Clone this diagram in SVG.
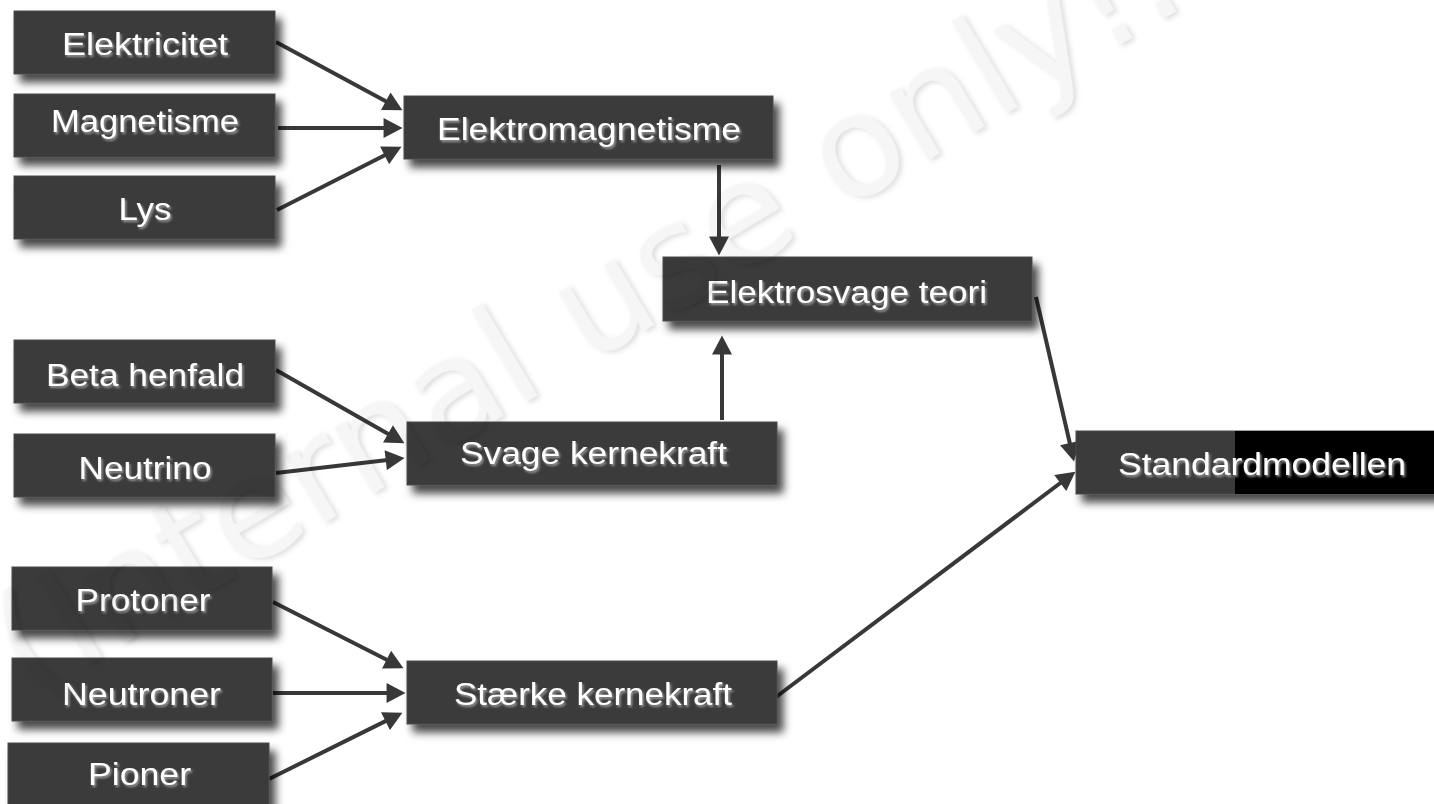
<svg xmlns="http://www.w3.org/2000/svg" width="1434" height="804" viewBox="0 0 1434 804">
<defs>
  <style>
    .box { fill: #3b3b3b; stroke: #4a4a4a; stroke-width: 1; filter: url(#boxsh); }
    .lbl { font-family: "Liberation Sans", Arial, sans-serif; font-size: 31px; fill: #ffffff; text-anchor: middle; filter: url(#txtsh); }
    .conn { stroke: #383838; stroke-width: 4; fill: none; marker-end: url(#arr); }
    .wm { font-family: "DejaVu Sans", Verdana, sans-serif; font-size: 140px; fill: #000; filter: url(#wmf); }
  </style>
  <filter id="boxsh" x="-10%" y="-20%" width="125%" height="160%">
    <feDropShadow dx="6" dy="8" stdDeviation="4.5" flood-color="#000" flood-opacity="0.72"/>
  </filter>
  <filter id="txtsh" x="-10%" y="-30%" width="120%" height="160%">
    <feDropShadow dx="1.5" dy="2" stdDeviation="0.9" flood-color="#9a9a9a" flood-opacity="1"/>
  </filter>
  <filter id="wmf" x="-5%" y="-5%" width="110%" height="110%">
    <feGaussianBlur in="SourceAlpha" stdDeviation="2.5" result="b"/>
    <feOffset in="b" dx="2" dy="3" result="o"/>
    <feComposite in="o" in2="SourceAlpha" operator="out" result="edge"/>
    <feFlood flood-color="#000" flood-opacity="0.13" result="f1"/>
    <feComposite in="f1" in2="edge" operator="in" result="sh"/>
    <feFlood flood-color="#000" flood-opacity="0.035" result="f2"/>
    <feComposite in="f2" in2="SourceAlpha" operator="in" result="fill"/>
    <feMerge><feMergeNode in="sh"/><feMergeNode in="fill"/></feMerge>
  </filter>
  <marker id="arr" markerUnits="userSpaceOnUse" markerWidth="20" markerHeight="20" viewBox="0 0 18 19" refX="8" refY="9.5" orient="auto">
    <path d="M0,0 L18,9.5 L0,19 Z" fill="#383838"/>
  </marker>
</defs>
<rect x="0" y="0" width="1434" height="804" fill="#ffffff"/>

<g id="connectors">
  <line class="conn" x1="276" y1="42" x2="393.2" y2="105.3"/>
  <line class="conn" x1="278" y1="128" x2="392" y2="128"/>
  <line class="conn" x1="277" y1="210" x2="392.1" y2="151.5"/>
  <line class="conn" x1="719" y1="165" x2="719" y2="245"/>
  <line class="conn" x1="722" y1="420" x2="722" y2="346"/>
  <line class="conn" x1="1036" y1="297" x2="1071.7" y2="451.3"/>
  <line class="conn" x1="776" y1="697" x2="1067" y2="478"/>
  <line class="conn" x1="276" y1="370" x2="395.3" y2="438"/>
  <line class="conn" x1="276" y1="473" x2="394.1" y2="459.2"/>
  <line class="conn" x1="273" y1="602" x2="394.1" y2="663.5"/>
  <line class="conn" x1="273" y1="693" x2="395" y2="693"/>
  <line class="conn" x1="269" y1="779" x2="393" y2="717.4"/>
</g>

<g id="n-elektricitet"><rect class="box" x="14" y="11" width="261" height="63"/><text class="lbl" x="145" y="55" textLength="166" lengthAdjust="spacingAndGlyphs">Elektricitet</text></g>
<g id="n-magnetisme"><rect class="box" x="14" y="94" width="261" height="63"/><text class="lbl" x="145" y="132" textLength="188" lengthAdjust="spacingAndGlyphs">Magnetisme</text></g>
<g id="n-lys"><rect class="box" x="14" y="176" width="261" height="63"/><text class="lbl" x="145" y="220" textLength="53" lengthAdjust="spacingAndGlyphs">Lys</text></g>
<g id="n-beta"><rect class="box" x="14" y="340" width="261" height="63"/><text class="lbl" x="145" y="386" textLength="198" lengthAdjust="spacingAndGlyphs">Beta henfald</text></g>
<g id="n-neutrino"><rect class="box" x="14" y="434" width="261" height="63"/><text class="lbl" x="145" y="479" textLength="133" lengthAdjust="spacingAndGlyphs">Neutrino</text></g>
<g id="n-protoner"><rect class="box" x="12" y="567" width="260" height="63"/><text class="lbl" x="143" y="611" textLength="135" lengthAdjust="spacingAndGlyphs">Protoner</text></g>
<g id="n-neutroner"><rect class="box" x="12" y="658" width="260" height="63"/><text class="lbl" x="141.5" y="705" textLength="159" lengthAdjust="spacingAndGlyphs">Neutroner</text></g>
<g id="n-pioner"><rect class="box" x="8" y="743" width="261" height="63"/><text class="lbl" x="139.5" y="785" textLength="103" lengthAdjust="spacingAndGlyphs">Pioner</text></g>
<g id="n-elektromagnetisme"><rect class="box" x="404" y="96" width="369" height="63"/><text class="lbl" x="589" y="140" textLength="304" lengthAdjust="spacingAndGlyphs">Elektromagnetisme</text></g>
<g id="n-elektrosvage"><rect class="box" x="663" y="257" width="369" height="64"/><text class="lbl" x="846.5" y="303" textLength="281" lengthAdjust="spacingAndGlyphs">Elektrosvage teori</text></g>
<g id="n-svage"><rect class="box" x="407" y="422" width="370" height="63"/><text class="lbl" x="593.5" y="464" textLength="267" lengthAdjust="spacingAndGlyphs">Svage kernekraft</text></g>
<g id="n-staerke"><rect class="box" x="407" y="661" width="370" height="63"/><text class="lbl" x="593" y="705" textLength="278" lengthAdjust="spacingAndGlyphs">Stærke kernekraft</text></g>
<g id="n-standardmodellen"><rect class="box" x="1076" y="431" width="380" height="63"/><rect x="1235" y="431" width="221" height="63" fill="#000"/><text class="lbl" x="1262" y="475" textLength="288" lengthAdjust="spacingAndGlyphs">Standardmodellen</text></g>

<g id="watermark">
  <text class="wm" transform="translate(30 700) rotate(-31)" x="0" y="0" textLength="1398" lengthAdjust="spacingAndGlyphs">(Internal use only!..</text>
</g>
</svg>
